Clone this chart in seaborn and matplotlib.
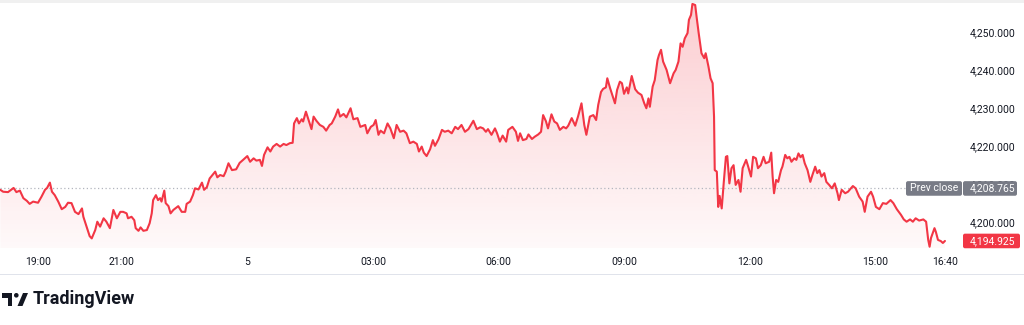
import numpy as np
import pandas as pd
import matplotlib
matplotlib.use("Agg")
import matplotlib.pyplot as plt
import matplotlib.transforms as mtransforms
from matplotlib.patches import PathPatch, FancyBboxPatch, Polygon, Circle, Rectangle
import seaborn as sns

# ---- data (minutes since 18:00 of the previous day, price) ----
minutes = [6, 10, 17, 25, 29, 34, 39, 44, 48, 53, 60, 65, 70, 73, 77, 80, 84, 89, 94, 99,
           103, 108, 113, 118, 123, 125, 130, 134, 137, 142, 145, 149, 154, 158, 163, 168, 173, 178, 182, 187,
           189, 194, 198, 200, 204, 207, 211, 216, 220, 223, 225, 229, 232, 235, 237, 241, 243, 247, 250, 254,
           261, 266, 271, 273, 278, 282, 285, 290, 295, 298, 302, 306, 314, 317, 321, 326, 329, 333, 338, 344, 349,
           354, 360, 364, 369, 373, 378, 381, 384, 389, 393, 397, 402, 407, 412, 416, 421, 425, 427, 431, 434,
           438, 440, 444, 447, 452, 455, 459, 464, 469, 473, 478, 481, 486, 490, 493, 498, 502, 508, 512, 518, 522,
           529, 532, 537, 541, 544, 548, 551, 556, 561, 565, 570, 574, 579, 584, 588, 593, 598, 603, 606, 610,
           613, 617, 622, 626, 629, 634, 639, 643, 648, 653, 658, 662, 667, 672, 677, 684, 689, 694,
           698, 702, 705, 710, 715, 718, 722, 726, 731, 734, 740, 745, 748, 751, 755, 760, 763, 768, 772, 777,
           781, 784, 788, 791, 796, 800, 804, 808, 813, 817, 820, 825, 830, 834, 839, 843, 846, 851, 856, 860, 863,
           867, 870, 874, 876, 880, 884, 887, 890, 894, 897, 900, 904, 906, 911, 916, 920, 925, 929, 932, 935,
           937, 941, 944, 948, 950, 953, 956, 961, 966, 971, 974, 978, 981, 984, 987, 991, 993, 996, 998, 1002,
           1004, 1007, 1011, 1015, 1017, 1021, 1024, 1027, 1029, 1030, 1033, 1035, 1037, 1040, 1043,
           1046, 1048, 1051, 1054, 1057, 1060, 1064, 1067, 1070, 1075, 1078, 1082, 1085, 1089, 1092, 1096, 1100, 1103, 1108, 1111,
           1113, 1115, 1118, 1121, 1125, 1127, 1131, 1134, 1137, 1140, 1144, 1147, 1150, 1153, 1156, 1159, 1163, 1167, 1170, 1174,
           1177, 1180, 1183, 1187, 1190, 1194, 1198, 1202, 1206, 1208, 1212,
           1217, 1221, 1228, 1232, 1237, 1242, 1245, 1249, 1254, 1257, 1261, 1266, 1271, 1276, 1282, 1286, 1291, 1297, 1301, 1305,
           1310, 1314, 1318, 1323, 1329, 1333, 1336, 1338, 1340, 1345, 1347, 1350, 1354, 1357, 1360]

prices = [4208.4, 4207.9, 4207.8, 4208.9, 4207.8, 4208.2, 4206.2, 4205.5, 4204.7, 4205.3,
          4205.0, 4206.6, 4208.4, 4208.9, 4210.3, 4207.9, 4207.0, 4205.3, 4203.3, 4203.9,
          4205.0, 4204.9, 4202.6, 4202.0, 4203.5, 4201.3, 4198.5, 4196.2, 4195.6, 4197.8,
          4200.0, 4198.7, 4200.9, 4200.0, 4198.3, 4203.1, 4200.9, 4202.6, 4202.6, 4202.2,
          4200.9, 4201.3, 4200.4, 4198.3, 4197.6, 4198.5, 4197.6, 4197.8, 4199.6, 4202.2,
          4205.7, 4207.0, 4205.7, 4206.2, 4205.3, 4208.2, 4204.9, 4204.1, 4202.2, 4203.1,
          4204.1, 4202.6, 4202.6, 4204.7, 4205.3, 4207.0, 4208.8, 4208.5, 4210.3, 4208.4,
          4209.1, 4211.4, 4213.2, 4211.7, 4212.3, 4212.0, 4213.2, 4215.4, 4213.6, 4213.8, 4215.5,
          4216.3, 4217.3, 4215.8, 4216.7, 4216.1, 4216.3, 4214.7, 4217.6, 4219.6, 4218.5,
          4219.8, 4220.5, 4219.8, 4220.5, 4220.2, 4220.7, 4220.8, 4225.9, 4227.3, 4225.9,
          4227.0, 4226.4, 4229.0, 4227.3, 4224.4, 4227.7, 4226.6, 4225.5, 4225.0, 4224.0,
          4225.5, 4225.9, 4227.7, 4229.6, 4227.7, 4228.4, 4227.5, 4229.9, 4227.0, 4227.3, 4225.0,
          4225.5, 4223.3, 4225.0, 4225.5, 4226.8, 4222.9, 4224.0, 4223.3, 4225.9, 4224.6,
          4222.0, 4225.5, 4223.7, 4224.0, 4223.3, 4220.7, 4221.1, 4220.5, 4218.5, 4219.8,
          4218.2, 4217.3, 4219.1, 4221.5, 4220.0, 4221.7, 4224.2, 4223.7, 4224.0, 4223.3,
          4225.0, 4224.4, 4225.5, 4223.7, 4224.4, 4226.6, 4224.4, 4224.9,
          4224.6, 4223.7, 4224.4, 4222.9, 4224.6, 4223.3, 4221.1, 4222.7, 4221.1, 4224.2,
          4225.0, 4223.7, 4221.3, 4223.3, 4221.5, 4221.8, 4223.0, 4221.8, 4222.4, 4223.0,
          4223.7, 4228.1, 4226.5, 4224.6, 4228.3, 4226.4, 4225.9, 4224.2, 4225.0, 4224.6,
          4225.3, 4227.3, 4225.3, 4227.7, 4231.2, 4225.5, 4222.9, 4227.7, 4228.1, 4226.8, 4230.8,
          4234.2, 4235.0, 4235.4, 4237.8, 4235.2, 4232.9, 4231.2, 4234.7, 4236.9, 4236.5,
          4233.7, 4235.4, 4233.8, 4238.4, 4234.9, 4234.0, 4233.4, 4231.2, 4229.9, 4232.5,
          4230.3, 4235.6, 4237.3, 4242.6, 4243.9, 4245.3, 4242.2, 4240.0, 4236.5, 4239.1,
          4240.0, 4242.2, 4247.0, 4246.1, 4248.3, 4249.7, 4253.2, 4254.5, 4257.4, 4257.1,
          4254.0, 4249.7, 4244.4, 4243.1, 4244.4, 4240.9, 4237.8, 4236.5, 4227.7, 4213.6,
          4213.2, 4203.9, 4206.8, 4203.5, 4210.5,
          4217.1, 4217.3, 4210.1, 4214.1, 4214.9, 4209.7, 4211.0, 4207.9, 4214.1, 4216.3,
          4214.5, 4211.9, 4217.1, 4216.7, 4214.1, 4214.9, 4217.1, 4215.4, 4215.8, 4218.2,
          4211.9, 4207.5, 4211.0, 4210.5, 4213.6, 4214.5, 4217.6, 4216.7, 4217.1, 4215.8,
          4216.7, 4216.3, 4218.0, 4217.0, 4217.6, 4215.4, 4213.6, 4210.5, 4212.3, 4214.5,
          4212.8, 4213.6, 4211.9, 4212.8, 4210.5, 4209.7, 4208.8, 4210.1, 4207.5, 4205.7, 4208.4,
          4207.5, 4207.9, 4209.4, 4208.8, 4206.6, 4205.3, 4202.6, 4206.6, 4207.9, 4206.6,
          4203.9, 4203.3, 4204.9, 4204.7, 4205.7, 4204.9, 4203.3, 4201.8, 4200.6, 4200.0,
          4200.6, 4200.0, 4200.9, 4200.3, 4200.6, 4200.0, 4195.2, 4193.4, 4195.7, 4198.3,
          4197.3, 4195.2, 4194.9, 4194.4, 4194.925]

tick_minutes = [60, 180, 360, 540, 720, 900, 1080, 1260, 1360]
tick_labels = ["19:00", "21:00", "5", "03:00", "06:00", "09:00", "12:00", "15:00", "16:40"]
price_ticks = [4200, 4210, 4220, 4230, 4240, 4250]
prev_close = 4208.765
last_price = 4194.925

# ---- style ----
sns.set_style("white")
plt.rcParams["font.family"] = ["Roboto", "DejaVu Sans"]

RED = "#f23645"
GRAY_BOX = "#787b86"
TXT = "#131722"

W, H = 1024, 325
fig = plt.figure(figsize=(W / 100, H / 100), dpi=100)
fig.patch.set_facecolor("white")
px = mtransforms.Affine2D().scale(1 / W, -1 / H).translate(0, 1) + fig.transFigure

ax = fig.add_axes([0, 1 - 248 / H, 960 / W, 245 / H])
ax.set_facecolor("none")

df = pd.DataFrame({"minute": minutes, "price": prices})

x0, x1 = 5.5, 5.5 + 1.4334 * 960
y0, y1 = 4193.07, 4257.64

# gradient area
poly = ax.fill_between(df["minute"], df["price"], y0, facecolor="none", edgecolor="none")
path = poly.get_paths()[0]
clip = PathPatch(path, transform=ax.transData, facecolor="none", edgecolor="none")
ax.add_patch(clip)
img = np.zeros((256, 1, 4))
img[..., 0] = 242 / 255
img[..., 1] = 54 / 255
img[..., 2] = 69 / 255
img[..., 3] = np.linspace(0.25, 0.03, 256)[:, None]
im = ax.imshow(img, extent=[x0, x1, y0, y1], aspect="auto", origin="upper", zorder=1,
               interpolation="bilinear")
im.set_clip_path(clip)

# prev close dotted line
ax.axhline(prev_close, color="#b2b5be", lw=0.9, ls=(0, (1, 2)), zorder=2)

# line
sns.lineplot(data=df, x="minute", y="price", ax=ax, color=RED, linewidth=1.5, zorder=3)

ax.set_xlim(x0, x1)
ax.set_ylim(y0, y1)
ax.set_xlabel("")
ax.set_ylabel("")
for s in ax.spines.values():
    s.set_visible(False)

ax.set_xticks(tick_minutes)
ax.set_xticklabels(tick_labels)
ax.tick_params(axis="x", length=0, pad=6.5, labelsize=7.5, labelcolor=TXT)
ax.yaxis.tick_right()
ax.set_yticks(price_ticks)
ax.set_yticklabels([f"{v:,.3f}" for v in price_ticks])
ax.tick_params(axis="y", length=0, pad=7.2, labelsize=7.5, labelcolor=TXT)
ax.grid(False)

# price labels (boxes)
def y_to_px(v):
    return H - ax.transData.transform((x0, v))[1]

yc = y_to_px(prev_close)
yl = y_to_px(last_price)

fig.patches.append(FancyBboxPatch((906, yc - 7.3), 56, 14.6, boxstyle="round,pad=0,rounding_size=2",
                                  transform=px, facecolor=GRAY_BOX, edgecolor="none", zorder=10))
fig.patches.append(FancyBboxPatch((963, yc - 7.3), 54, 14.6, boxstyle="round,pad=0,rounding_size=2",
                                  transform=px, facecolor=GRAY_BOX, edgecolor="none", zorder=10))
fig.text(934, yc, "Prev close", transform=px, ha="center", va="center", color="white",
         fontsize=7.5, zorder=11)
fig.text(970, yc, f"{prev_close:,.3f}", transform=px, ha="left", va="center", color="white",
         fontsize=7.5, zorder=11)

fig.patches.append(FancyBboxPatch((963, yl - 7.3), 57, 14.6, boxstyle="round,pad=0,rounding_size=2",
                                  transform=px, facecolor=RED, edgecolor="none", zorder=10))
fig.text(970, yl, f"{last_price:,.3f}", transform=px, ha="left", va="center", color="white",
         fontsize=7.5, zorder=11)

# frame details
fig.patches.append(Rectangle((0, 0), W, 2.5, transform=px, facecolor="#f0f0f0", edgecolor="none"))
fig.patches.append(Rectangle((0, 273.5), W, 1, transform=px, facecolor="#e0e3eb", edgecolor="none"))

# TradingView logo
logo_col = TXT
fig.patches.append(Polygon([(2, 293), (12, 293), (12, 306), (7.5, 306), (7.5, 297.5), (2, 297.5)],
                           closed=True, transform=px, facecolor=logo_col, edgecolor="none"))
fig.patches.append(Circle((16.3, 295.3), 2.3, transform=px, facecolor=logo_col, edgecolor="none"))
fig.patches.append(Polygon([(17.5, 306), (22.5, 306), (28, 293), (23, 293)],
                           closed=True, transform=px, facecolor=logo_col, edgecolor="none"))
fig.text(33, 299.5, "TradingView", transform=px, ha="left", va="center", color=logo_col,
         fontsize=13, fontweight="bold")

fig.savefig("out.png", dpi=100, facecolor="white")
